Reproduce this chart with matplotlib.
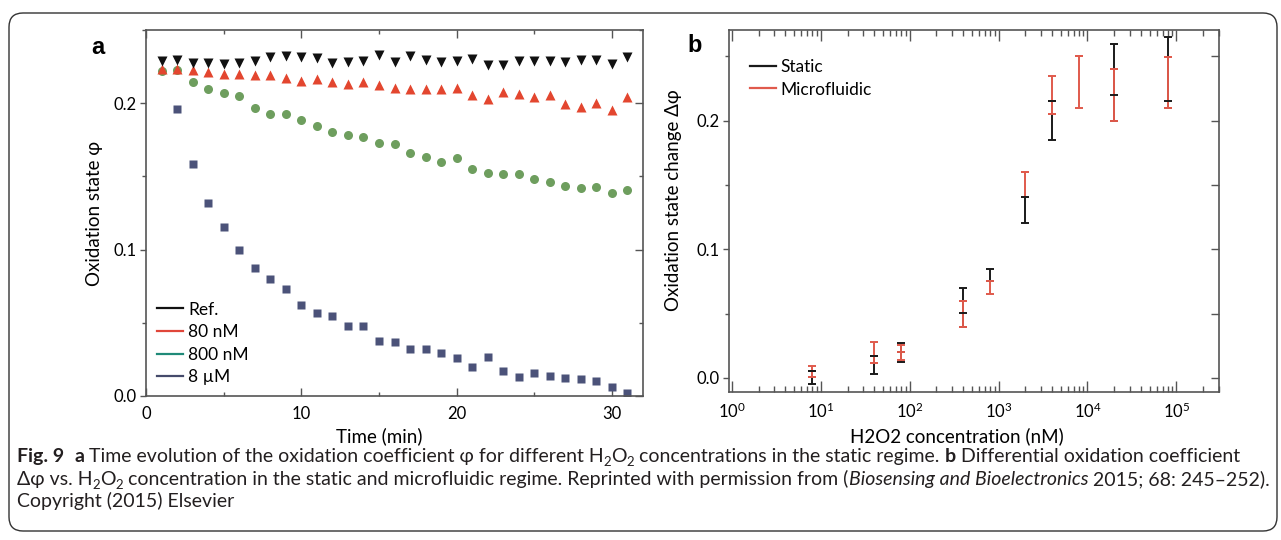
import matplotlib
matplotlib.use("Agg")
import matplotlib.pyplot as plt
from matplotlib.patches import FancyBboxPatch
from matplotlib.lines import Line2D
from matplotlib.ticker import MultipleLocator, FixedLocator, LogLocator, NullFormatter, FuncFormatter
from matplotlib import font_manager

# ---------------- data ----------------
time_min = list(range(1, 32))
phi_ref = [0.2286, 0.2297, 0.2272, 0.2272, 0.2267, 0.2272, 0.2290, 0.2317, 0.2324, 0.2313,
           0.2308, 0.2274, 0.2279, 0.2286, 0.2329, 0.2279, 0.2324, 0.2297, 0.2279, 0.2286,
           0.2301, 0.2260, 0.2260, 0.2286, 0.2290, 0.2290, 0.2279, 0.2297, 0.2297, 0.2267, 0.2313]
phi_80nM = [0.2233, 0.2233, 0.2228, 0.2215, 0.2199, 0.2199, 0.2194, 0.2194, 0.2169, 0.2153,
            0.2164, 0.2142, 0.2130, 0.2142, 0.2123, 0.2107, 0.2096, 0.2100, 0.2096, 0.2107,
            0.2055, 0.2027, 0.2078, 0.2062, 0.2043, 0.2059, 0.1993, 0.1977, 0.2000, 0.1954, 0.2039]
phi_800nM = [0.2221, 0.2228, 0.2146, 0.2100, 0.2068, 0.2050, 0.1970, 0.1929, 0.1925, 0.1886,
             0.1845, 0.1804, 0.1781, 0.1772, 0.1726, 0.1719, 0.1658, 0.1632, 0.1598, 0.1626,
             0.1553, 0.1521, 0.1514, 0.1514, 0.1479, 0.1461, 0.1434, 0.1422, 0.1429, 0.1384, 0.1404]
time_8uM = list(range(2, 32))
phi_8uM = [0.1959, 0.1582, 0.1320, 0.1155, 0.1000, 0.0874, 0.0801, 0.0733, 0.0623, 0.0566,
           0.0548, 0.0479, 0.0479, 0.0379, 0.0372, 0.0320, 0.0320, 0.0292, 0.0258, 0.0196,
           0.0269, 0.0171, 0.0132, 0.0160, 0.0137, 0.0121, 0.0116, 0.0103, 0.0064, 0.0023]
labels_a = ["Ref.", "80 nM", "800 nM", "8 \u00b5M"]

conc_static = [8, 40, 80, 400, 800, 2000, 4000, 20000, 80000]
static_val = [0.0054, 0.0169, 0.0200, 0.0501, 0.0752, 0.1404, 0.2153, 0.2197, 0.2153]
static_low = [-0.0049, 0.0029, 0.0125, 0.0397, 0.0752, 0.1206, 0.1850, 0.2000, 0.2096]
static_high = [0.0054, 0.0169, 0.0272, 0.0696, 0.0846, 0.1404, 0.2153, 0.2597, 0.2654]

conc_micro = [8, 40, 80, 400, 800, 2000, 4000, 8000, 20000, 80000]
micro_val = [0.0008, 0.0117, 0.0203, 0.0599, 0.0752, 0.1603, 0.2050, 0.2503, 0.2400, 0.2498]
micro_low = [0.0008, 0.0117, 0.0140, 0.0397, 0.0649, 0.1404, 0.2050, 0.2096, 0.2000, 0.2096]
micro_high = [0.0093, 0.0275, 0.0258, 0.0599, 0.0752, 0.1603, 0.2351, 0.2503, 0.2400, 0.2498]
labels_b = ["Static", "Microfluidic"]

# ---------------- style ----------------
W, H, DPI = 1281, 540, 100
plt.rcParams["font.family"] = ["Lato", "DejaVu Sans"]
plt.rcParams["mathtext.default"] = "regular"
names = {f.name for f in font_manager.fontManager.ttflist}
cap_font = "Liberation Sans Narrow" if "Liberation Sans Narrow" in names else "Lato"

SPINE = "#555555"
TICK_FS = 12
LAB_FS = 13.5

fig = plt.figure(figsize=(W / DPI, H / DPI), dpi=DPI)


def px_axes(l, t, r, b):
    return fig.add_axes([l / W, 1 - b / H, (r - l) / W, (b - t) / H])


def style_axes(ax):
    for s in ax.spines.values():
        s.set_color(SPINE)
        s.set_linewidth(1.2)
    ax.tick_params(axis="x", which="both", direction="in", top=True, bottom=True,
                   color=SPINE, width=1.0, labelsize=TICK_FS, pad=7)
    ax.tick_params(axis="x", which="major", length=6)
    ax.tick_params(axis="x", which="minor", length=3)
    ax.tick_params(axis="y", which="both", direction="out", left=True, right=False,
                   color=SPINE, width=1.0, labelsize=TICK_FS, pad=3)
    ax.tick_params(axis="y", which="major", length=4)
    ax.tick_params(axis="y", which="minor", length=3)


# ---------------- panel a ----------------
axa = px_axes(146, 30, 643, 396)
axa.plot(time_8uM, phi_8uM, ls="none", marker="s", ms=6, color="#4b5279", mec="none")
axa.plot(time_min, phi_800nM, ls="none", marker="o", ms=6.5, color="#6e9e5e", mec="none")
axa.plot(time_min, phi_80nM, ls="none", marker="^", ms=7, color="#e3462f", mec="none")
axa.plot(time_min, phi_ref, ls="none", marker="v", ms=7, color="#111111", mec="none")
axa.set_xlim(0, 32)
axa.set_ylim(0, 0.25)
axa.xaxis.set_major_locator(FixedLocator([0, 10, 20, 30]))
axa.xaxis.set_minor_locator(MultipleLocator(5))
axa.yaxis.set_major_locator(FixedLocator([0.0, 0.1, 0.2]))
axa.yaxis.set_minor_locator(MultipleLocator(0.05))
axa.yaxis.set_major_formatter(FuncFormatter(lambda v, p: f"{v:.1f}"))
style_axes(axa)
seca = axa.secondary_yaxis("right")
seca.yaxis.set_major_locator(FixedLocator([0.0, 0.1, 0.2]))
seca.yaxis.set_minor_locator(MultipleLocator(0.05))
seca.tick_params(which="both", direction="in", labelright=False, color=SPINE, width=1.0)
seca.tick_params(which="major", length=6)
seca.tick_params(which="minor", length=3)
seca.spines["right"].set_visible(False)
axa.set_xlabel("Time (min)", fontsize=LAB_FS)
axa.xaxis.set_label_coords(0.47, -0.085)
axa.set_ylabel("Oxidation state \u03c6", fontsize=LAB_FS)
axa.yaxis.set_label_coords(-0.086, 0.5)
handles_a = [Line2D([], [], color=c, lw=1.6) for c in ["#111111", "#e0463a", "#1f8a78", "#454a6b"]]
axa.legend(handles_a, labels_a, loc="upper left", bbox_to_anchor=(0.022, 0.258),
           frameon=False, fontsize=12.5, handlelength=1.5, handletextpad=0.3,
           labelspacing=0.38, borderpad=0, borderaxespad=0)

# ---------------- panel b ----------------
axb = px_axes(729, 30, 1219, 392)
err_s = [[v - lo for v, lo in zip(static_val, static_low)],
         [hi - v for v, hi in zip(static_val, static_high)]]
err_m = [[v - lo for v, lo in zip(micro_val, micro_low)],
         [hi - v for v, hi in zip(micro_val, micro_high)]]
axb.errorbar(conc_static, static_val, yerr=err_s, fmt="none", ecolor="#1a1a1a",
             elinewidth=1.4, capsize=2.6, capthick=1.4)
axb.errorbar(conc_micro, micro_val, yerr=err_m, fmt="none", ecolor="#e05a4c",
             elinewidth=1.4, capsize=2.6, capthick=1.4)
axb.plot(conc_static, static_val, ls="none", marker="_", ms=5.2, mew=1.4, color="#1a1a1a")
axb.plot(conc_micro, micro_val, ls="none", marker="_", ms=5.2, mew=1.4, color="#e05a4c")
axb.set_xscale("log")
axb.set_xlim(10 ** -0.033, 10 ** 5.48)
axb.set_ylim(-0.011, 0.2705)
axb.xaxis.set_major_locator(LogLocator(base=10, numticks=10))
axb.xaxis.set_minor_locator(LogLocator(base=10, subs=range(2, 10), numticks=20))
axb.xaxis.set_minor_formatter(NullFormatter())
axb.yaxis.set_major_locator(FixedLocator([0.0, 0.1, 0.2]))
axb.yaxis.set_minor_locator(MultipleLocator(0.05))
axb.yaxis.set_major_formatter(FuncFormatter(lambda v, p: f"{v:.1f}"))
style_axes(axb)
axb.tick_params(axis="x", which="major", length=8)
axb.tick_params(axis="x", which="minor", length=4)
secb = axb.secondary_yaxis("right")
secb.yaxis.set_major_locator(FixedLocator([0.0, 0.1, 0.2]))
secb.yaxis.set_minor_locator(MultipleLocator(0.05))
secb.tick_params(which="both", direction="in", labelright=False, color=SPINE, width=1.0, length=6)
secb.spines["right"].set_visible(False)
axb.set_xlabel("H2O2 concentration (nM)", fontsize=LAB_FS)
axb.xaxis.set_label_coords(0.465, -0.097)
axb.set_ylabel("Oxidation state change \u0394\u03c6", fontsize=LAB_FS)
axb.yaxis.set_label_coords(-0.096, 0.53)
handles_b = [Line2D([], [], color=c, lw=1.6) for c in ["#1a1a1a", "#e05a4c"]]
axb.legend(handles_b, labels_b, loc="upper left", bbox_to_anchor=(0.042, 0.92),
           frameon=False, fontsize=12.5, handlelength=1.5, handletextpad=0.3,
           labelspacing=0.38, borderpad=0, borderaxespad=0)

# ---------------- overlay: border, panel letters, caption ----------------
ov = fig.add_axes([0, 0, 1, 1], zorder=-1)
ov.set_xlim(0, W)
ov.set_ylim(H, 0)
ov.axis("off")
ov.add_patch(FancyBboxPatch((9, 13), 1268, 518, boxstyle="round,pad=0,rounding_size=14",
                            fc="none", ec="#333333", lw=1.0))
ov.text(98, 47, "a", fontsize=17, fontweight="bold", family=["Liberation Sans", "DejaVu Sans"],
        ha="center", va="center")
ov.text(695, 45, "b", fontsize=17, fontweight="bold", family=["Liberation Sans", "DejaVu Sans"],
        ha="center", va="center")

renderer = fig.canvas.get_renderer()


def draw_runs(x, y, runs, size):
    arts = []
    for text, st in runs:
        kw = dict(fontsize=size, family=[cap_font, "DejaVu Sans"], va="baseline", ha="left",
                  color="#231f20")
        yy = y
        if st == "b":
            kw["fontweight"] = "bold"
        elif st == "i":
            kw["style"] = "italic"
        elif st == "sub":
            kw["fontsize"] = size * 0.68
            yy = y + size * (DPI / 72) * 0.22
        t = ov.text(x, yy, text, **kw)
        arts.append(t)
        x += t.get_window_extent(renderer).width
    return x, arts


line1 = [("Fig. 9", "b"), ("  ", "n"), ("a", "b"),
         (" Time evolution of the oxidation coefficient \u03c6 for different H", "n"), ("2", "sub"),
         ("O", "n"), ("2", "sub"), (" concentrations in the static regime. ", "n"), ("b", "b"),
         (" Differential oxidation coefficient", "n")]
line2 = [("\u0394\u03c6 vs. H", "n"), ("2", "sub"), ("O", "n"), ("2", "sub"),
         (" concentration in the static and microfluidic regime. Reprinted with permission from (", "n"),
         ("Biosensing and Bioelectronics", "i"), (" 2015; 68: 245\u2013252).", "n")]
line3 = [("Copyright (2015) Elsevier", "n")]

x0 = 17
end, arts = draw_runs(x0, 479, line2, 10)
for a in arts:
    a.remove()
cap_size = 10 * (1268 - x0) / (end - x0)
draw_runs(x0, 462, line1, cap_size)
draw_runs(x0, 485, line2, cap_size)
draw_runs(x0, 507, line3, cap_size)

fig.savefig("out.png", dpi=DPI)
